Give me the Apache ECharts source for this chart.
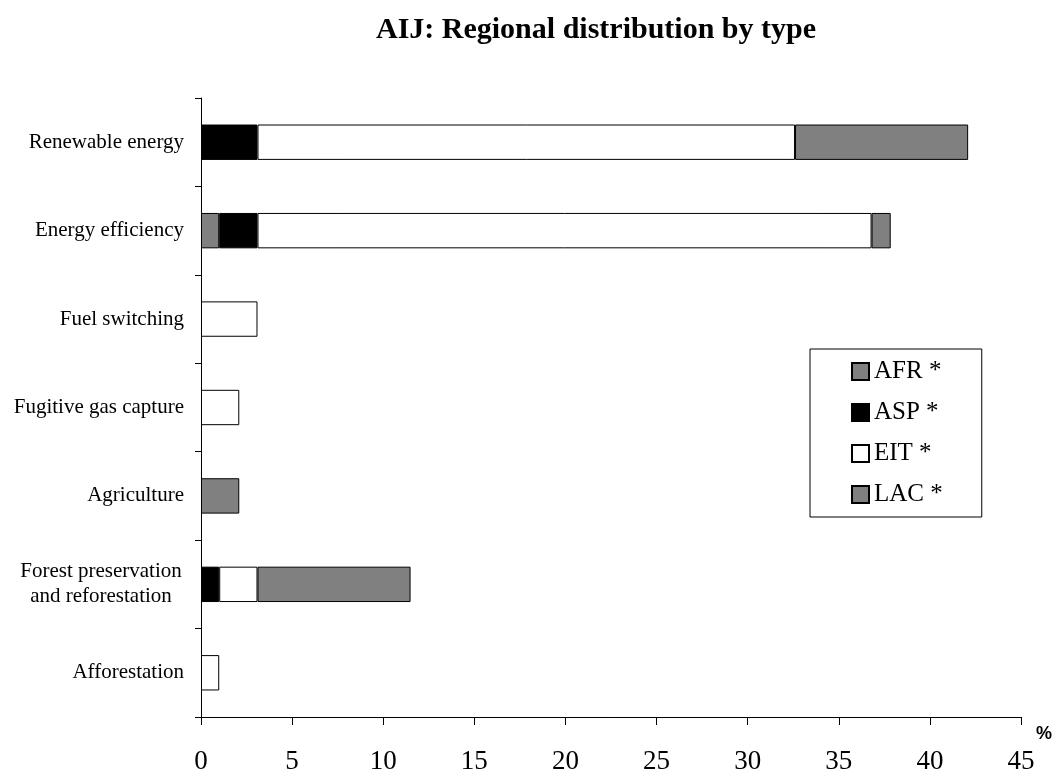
<!DOCTYPE html>
<html>
<head>
<meta charset="utf-8">
<script src="https://cdn.jsdelivr.net/npm/echarts@6/dist/echarts.min.js"></script>
<style>html,body{margin:0;padding:0;background:#fff}#c{width:1054px;height:772px}</style>
</head>
<body>
<div id="c"></div>
<script>
var categories = ['Renewable energy', 'Energy efficiency', 'Fuel switching', 'Fugitive gas capture', 'Agriculture', 'Forest preservation\nand reforestation', 'Afforestation'];
var AFR = [null, 1.0, null, null, 2.1, null, null];
var ASP = [3.1, 2.1, null, null, null, 1.0, null];
var EIT = [29.5, 33.7, 3.1, 2.1, null, 2.1, 1.0];
var LAC = [9.5, 1.05, null, null, null, 8.4, null];
var xTicks = {min: 0, max: 45, interval: 5};

var serif = 'Liberation Serif';
var chart = echarts.init(document.getElementById('c'));
function ser(name, data, color) {
  return {
    name: name, type: 'bar', stack: 'all', data: data, barWidth: '40%',
    itemStyle: {color: color, borderColor: '#000', borderWidth: 1},
    emphasis: {disabled: true}
  };
}
chart.setOption({
  animation: false,
  title: {
    text: 'AIJ: Regional distribution by type', left: 591, top: 10, textAlign: 'center',
    textStyle: {fontFamily: serif, fontSize: 30, fontWeight: 'bold', color: '#000'}
  },
  grid: {left: 201, right: 33, top: 98, bottom: 55, containLabel: false, outerBoundsMode: 'none'},
  legend: {
    orient: 'vertical', left: 810, top: 349,
    padding: [10, 39, 10, 41], itemGap: 16, itemWidth: 17, itemHeight: 17,
    borderColor: '#000', borderWidth: 1, icon: 'rect',
    textStyle: {fontFamily: serif, fontSize: 25, color: '#000'},
    data: ['AFR *', 'ASP *', 'EIT *', 'LAC *']
  },
  xAxis: {
    type: 'value', min: xTicks.min, max: xTicks.max, interval: xTicks.interval,
    name: '%', nameLocation: 'end', nameGap: 15,
    nameTextStyle: {fontFamily: 'Liberation Sans', fontWeight: 'bold', fontSize: 18, color: '#000', verticalAlign: 'top', padding: [8, 0, 0, 0]},
    axisLine: {show: true, lineStyle: {color: '#000', width: 1}},
    axisTick: {show: true, length: 8, lineStyle: {color: '#000'}},
    splitLine: {show: false},
    axisLabel: {fontFamily: serif, fontSize: 27, color: '#000', margin: 31}
  },
  yAxis: {
    type: 'category', data: categories, inverse: true,
    axisLine: {show: true, lineStyle: {color: '#000', width: 1}},
    axisTick: {show: true, length: 6, lineStyle: {color: '#000'}},
    axisLabel: {
      fontFamily: serif, fontSize: 21, color: '#000', margin: 17, lineHeight: 25,
      formatter: function (v) {
        if (v.indexOf('\n') < 0) return v;
        return v.split('\n').map(function (s) { return '{c|' + s + '}'; }).join('\n');
      },
      rich: {c: {fontFamily: serif, fontSize: 21, color: '#000', lineHeight: 25, width: 166, align: 'center'}}
    }
  },
  series: [
    ser('AFR *', AFR, '#808080'),
    ser('ASP *', ASP, '#000000'),
    ser('EIT *', EIT, '#ffffff'),
    ser('LAC *', LAC, '#808080')
  ]
});
</script>
</body>
</html>
